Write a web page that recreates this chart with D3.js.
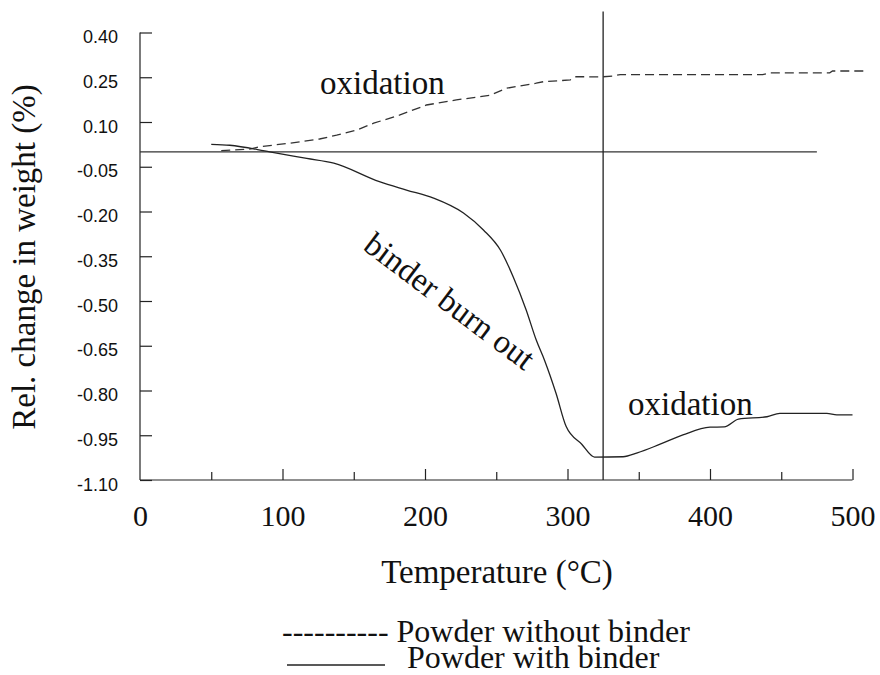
<!DOCTYPE html>
<html>
  <head>
    <meta charset="utf-8">
    <title></title>
    <script type="text/javascript" src="https://d3js.org/d3.v7.min.js"></script>
    <style media="screen">
      body { margin: 0; background: #fff; }
      .axis path, .axis line { stroke: #222; stroke-width: 1.2; }
      .ytick text { font-family: "Liberation Sans", Arial, sans-serif; font-size: 18px; fill: #111; }
      .xtick text { font-family: "Liberation Serif", "Times New Roman", serif; font-size: 30px; fill: #111; }
      .serif { font-family: "Liberation Serif", "Times New Roman", serif; fill: #111; }
    </style>
  </head>
  <body>
    <div class="vis">
    </div>
    <script type="text/javascript">
      var w = 880;
      var h = 675;

      // axis ticks
      var xTicks = [0, 50, 100, 150, 200, 250, 300, 350, 400, 450, 500];
      var yTicks = [0.40, 0.25, 0.10, -0.05, -0.20, -0.35, -0.50, -0.65, -0.80, -0.95, -1.10];
      var yTickLabels = ["0.40", "0.25", "0.10", "-0.05", "-0.20", "-0.35", "-0.50", "-0.65", "-0.80", "-0.95", "-1.10"];

      // powder without binder (dashed)
      var noBinderTemp = [57, 77, 84, 105, 126, 138, 152, 164, 182, 201, 222, 246, 257, 278, 283, 302, 306, 323, 332, 337, 437, 442, 484, 486, 511];
      var noBinderWeight = [0.004, 0.009, 0.017, 0.029, 0.043, 0.056, 0.073, 0.096, 0.123, 0.157, 0.174, 0.19, 0.213, 0.23, 0.235, 0.241, 0.252, 0.251, 0.254, 0.259, 0.259, 0.265, 0.265, 0.271, 0.271];

      // powder with binder (solid)
      var binderTemp = [50, 63, 91, 117, 136, 168, 187, 206, 227, 241, 253, 262, 271, 278, 284, 292, 299, 310, 319, 339, 349, 365, 381, 400, 410, 420, 440, 449, 482, 489, 500];
      var binderWeight = [0.025, 0.022, 0.0, -0.022, -0.038, -0.10, -0.128, -0.155, -0.205, -0.262, -0.33, -0.42, -0.53, -0.63, -0.70, -0.81, -0.92, -0.98, -1.023, -1.022, -1.009, -0.98, -0.949, -0.923, -0.922, -0.896, -0.888, -0.877, -0.877, -0.882, -0.882];

      // reference lines
      var zeroLine = {t0: 0, t1: 475, v: 0};
      var markTemp = 325;
      var markTop = 0.47;

      var xscale = d3.scaleLinear().domain([0, 500]).range([140, 852.5]);
      var yscale = d3.scaleLinear().domain([-1.10, 0.40]).range([480, 32.5]);

      var svg = d3.select('.vis')
        .append('svg')
        .attr('width', w)
        .attr('height', h);

      var yAxis = d3.axisLeft(yscale)
        .tickValues(yTicks)
        .tickSize(-12)
        .tickPadding(22)
        .tickFormat(function(d, i) { return yTickLabels[i]; });

      var xAxis = d3.axisBottom(xscale)
        .tickValues(xTicks)
        .tickSize(-11)
        .tickPadding(25)
        .tickFormat(function(d) { return d % 100 === 0 ? d : ""; });

      var gy = svg.append('g')
        .attr('class', 'axis ytick')
        .attr('transform', 'translate(140,0)')
        .call(yAxis);
      gy.select('.domain').attr('d', 'M0,' + yscale(0.40) + 'V' + yscale(-1.10));
      gy.selectAll('text').attr('dy', '0.56em').attr('font-family', null).attr('font-size', null);

      var gx = svg.append('g')
        .attr('class', 'axis xtick')
        .attr('transform', 'translate(0,480)')
        .call(xAxis);
      gx.select('.domain').attr('d', 'M' + xscale(0) + ',0H' + xscale(500));
      gx.selectAll('.tick line').attr('y2', function(d) { return d % 100 === 0 ? -11 : -8; });
      gx.selectAll('.tick').filter(function(d) { return d === 0; }).select('line').remove();
      gx.selectAll('text').attr('font-family', null).attr('font-size', null);

      // reference lines
      svg.append('line')
        .attr('x1', xscale(zeroLine.t0)).attr('x2', xscale(zeroLine.t1))
        .attr('y1', yscale(zeroLine.v)).attr('y2', yscale(zeroLine.v))
        .attr('stroke', '#333').attr('stroke-width', 1.3);
      svg.append('line')
        .attr('x1', xscale(markTemp)).attr('x2', xscale(markTemp))
        .attr('y1', yscale(markTop)).attr('y2', yscale(-1.10))
        .attr('stroke', '#222').attr('stroke-width', 1.3);

      var dashed = noBinderTemp.map(function(t, i) { return [t, noBinderWeight[i]]; });
      var solid = binderTemp.map(function(t, i) { return [t, binderWeight[i]]; });

      var line = d3.line()
        .x(function(d) { return xscale(d[0]); })
        .y(function(d) { return yscale(d[1]); });

      svg.append('path')
        .attr('d', line.curve(d3.curveLinear)(dashed))
        .attr('fill', 'none')
        .attr('stroke', '#333')
        .attr('stroke-width', 1.3)
        .attr('stroke-dasharray', '9,5');

      svg.append('path')
        .attr('d', line.curve(d3.curveMonotoneX)(solid))
        .attr('fill', 'none')
        .attr('stroke', '#222')
        .attr('stroke-width', 1.3);

      // annotations
      svg.append('text').attr('class', 'serif')
        .attr('x', 320).attr('y', 94).attr('font-size', 33)
        .text('oxidation');
      svg.append('text').attr('class', 'serif')
        .attr('x', 628).attr('y', 415).attr('font-size', 33)
        .text('oxidation');
      svg.append('text').attr('class', 'serif')
        .attr('transform', 'translate(443,310) rotate(37)')
        .attr('text-anchor', 'middle').attr('font-size', 33)
        .text('binder burn out');

      // axis titles
      svg.append('text').attr('class', 'serif')
        .attr('transform', 'translate(35,257) rotate(-90)')
        .attr('text-anchor', 'middle').attr('font-size', 33)
        .text('Rel. change in weight (%)');
      svg.append('text').attr('class', 'serif')
        .attr('x', 497).attr('y', 583)
        .attr('text-anchor', 'middle').attr('font-size', 33)
        .text('Temperature (\u00B0C)');

      // legend
      svg.append('text').attr('class', 'serif')
        .attr('x', 282).attr('y', 642).attr('font-size', 32)
        .text('---------- Powder without binder');
      svg.append('line')
        .attr('x1', 287).attr('x2', 385).attr('y1', 665).attr('y2', 665)
        .attr('stroke', '#222').attr('stroke-width', 1.3);
      svg.append('text').attr('class', 'serif')
        .attr('x', 407).attr('y', 668).attr('font-size', 32)
        .text('Powder with binder');
    </script>
  </body>
</html>
